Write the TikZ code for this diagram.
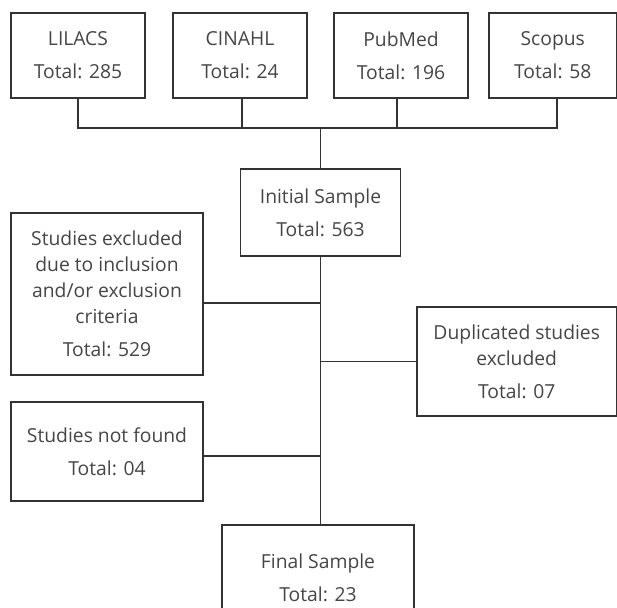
\documentclass[tikz,border=0pt]{standalone}
\usepackage{fontspec}
\setmainfont{Open Sans}
\definecolor{txt}{HTML}{454545}
\definecolor{ln}{HTML}{333333}
\begin{document}
\begin{tikzpicture}[x=1pt,y=1pt,
  box/.style={draw=ln,line width=1.3pt,rectangle,align=center,inner sep=0pt,
    text=txt,font=\fontsize{19.3}{26}\selectfont},
  conn/.style={draw=ln,line width=1.3pt}]
\useasboundingbox (0,0) rectangle (617,607);
% top databases
\node[box,minimum width=134pt,minimum height=85pt] (lilacs) at (78,551.5) {LILACS\\[7pt]Total: 285};
\node[box,minimum width=134pt,minimum height=85pt] (cinahl) at (240,551.5) {CINAHL\\[7pt]Total: 24};
\node[box,minimum width=134pt,minimum height=85pt] (pubmed) at (401,551.5) {PubMed\\[7pt]Total: 196};
\node[box,minimum width=127.5pt,minimum height=85pt] (scopus) at (552.75,551.5) {Scopus\\[7pt]Total: 58};
% central nodes
\node[box,minimum width=160pt,minimum height=87pt] (initial) at (320.5,394.5) {Initial Sample\\[7pt]Total: 563};
\node[box,minimum width=192pt,minimum height=162pt] (excluded) at (107,313) {Studies excluded\\due to inclusion\\and/or exclusion\\criteria\\[7pt]Total: 529};
\node[box,minimum width=199.5pt,minimum height=109pt] (dup) at (516.75,245.5) {Duplicated studies\\excluded\\[7pt]Total: 07};
\node[box,minimum width=192pt,minimum height=99pt] (notfound) at (107,155.5) {Studies not found\\[7pt]Total: 04};
\node[box,minimum width=192pt,minimum height=106pt] (final) at (318,29) {Final Sample\\[7pt]Total: 23};
% junctions
\coordinate (bus) at (320.5,479);
\coordinate (j1) at (320.5,304);
\coordinate (j2) at (320.5,245.5);
\coordinate (j3) at (320.5,151);
% top bus
\draw[conn] (lilacs.south) -- (lilacs.south |- bus) -- ([xshift=4.25pt]scopus.south |- bus) -- ([xshift=4.25pt]scopus.south);
\draw[conn] ([xshift=2pt]cinahl.south) -- ([xshift=2pt]cinahl.south |- bus);
\draw[conn] ([xshift=-4pt]pubmed.south) -- ([xshift=-4pt]pubmed.south |- bus);
\draw[conn] (bus) -- (initial.north);
% spine
\draw[conn] (initial.south) -- (initial.south |- final.north);
\draw[conn] ([yshift=-9pt]excluded.east) -- (j1);
\draw[conn] (dup.west) -- (j2);
\draw[conn] ([yshift=-4.5pt]notfound.east) -- (j3);
\end{tikzpicture}
\end{document}
